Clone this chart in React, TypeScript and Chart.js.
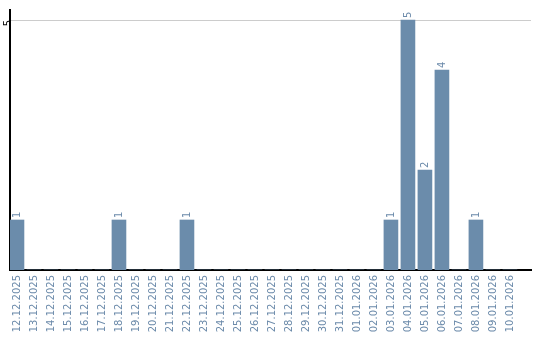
import React, { useEffect, useRef } from "react";
import { Chart, registerables } from "chart.js";

Chart.register(...registerables);

const categories = [
  "12.12.2025", "13.12.2025", "14.12.2025", "15.12.2025", "16.12.2025",
  "17.12.2025", "18.12.2025", "19.12.2025", "20.12.2025", "21.12.2025",
  "22.12.2025", "23.12.2025", "24.12.2025", "25.12.2025", "26.12.2025",
  "27.12.2025", "28.12.2025", "29.12.2025", "30.12.2025", "31.12.2025",
  "01.01.2026", "02.01.2026", "03.01.2026", "04.01.2026", "05.01.2026",
  "06.01.2026", "07.01.2026", "08.01.2026", "09.01.2026", "10.01.2026",
];

const values = [
  1, 0, 0, 0, 0, 0, 1, 0, 0, 0,
  1, 0, 0, 0, 0, 0, 0, 0, 0, 0,
  0, 0, 1, 5, 2, 4, 0, 1, 0, 0,
];

const yTicks = [5];

const BAR_COLOR = "#6b8cab";
const TEXT_COLOR = "#6b8aaa";
const FONT = "DejaVu Sans";

const valueLabels = {
  id: "valueLabels",
  afterDatasetsDraw(chart: any) {
    const ctx = chart.ctx;
    const meta = chart.getDatasetMeta(0);
    ctx.save();
    ctx.fillStyle = TEXT_COLOR;
    ctx.font = `10px "${FONT}"`;
    ctx.textAlign = "left";
    ctx.textBaseline = "middle";
    meta.data.forEach((el: any, i: number) => {
      const v = values[i];
      if (!v) return;
      ctx.save();
      ctx.translate(el.x, el.y - 2);
      ctx.rotate(-Math.PI / 2);
      ctx.fillText(String(v), 0, 0);
      ctx.restore();
    });
    ctx.restore();
  },
};

export default function App() {
  const ref = useRef<HTMLCanvasElement>(null);
  useEffect(() => {
    document.body.style.margin = "0";
    const chart = new Chart(ref.current as HTMLCanvasElement, {
      type: "bar",
      data: {
        datasets: [
          {
            data: values.map((v, i) => ({ x: i, y: v })),
            backgroundColor: BAR_COLOR,
            barThickness: 14,
            borderWidth: 0,
          },
        ],
      },
      plugins: [valueLabels],
      options: {
        animation: false,
        responsive: false,
        devicePixelRatio: 1,
        layout: { padding: { top: 10, right: 9, left: 0, bottom: 0 } },
        plugins: { legend: { display: false }, tooltip: { enabled: false } },
        scales: {
          x: {
            type: "linear",
            offset: false,
            min: -0.41,
            max: 30.24,
            grid: { display: false, drawTicks: false },
            border: { display: true, color: "#000", width: 2 },
            afterFit: (s: any) => {
              s.height = 70;
            },
            afterBuildTicks: (s: any) => {
              s.ticks = categories.map((_, i) => ({ value: i }));
            },
            ticks: {
              autoSkip: false,
              minRotation: 90,
              maxRotation: 90,
              padding: 5,
              color: TEXT_COLOR,
              font: { family: FONT, size: 10 },
              callback: (v: any) => categories[v as number] ?? "",
            },
          },
          y: {
            min: 0,
            max: 5.2,
            grid: { color: "#cccccc", drawTicks: false, lineWidth: 1 },
            border: { display: true, color: "#000", width: 2 },
            afterFit: (s: any) => {
              s.width = 10;
            },
            afterBuildTicks: (s: any) => {
              s.ticks = yTicks.map((v) => ({ value: v }));
            },
            ticks: {
              minRotation: 90,
              maxRotation: 90,
              padding: 2,
              color: "#000",
              font: { family: FONT, size: 10 },
            },
          },
        },
      },
    });
    return () => chart.destroy();
  }, []);
  return <canvas ref={ref} width={540} height={340} style={{ display: "block" }} />;
}
